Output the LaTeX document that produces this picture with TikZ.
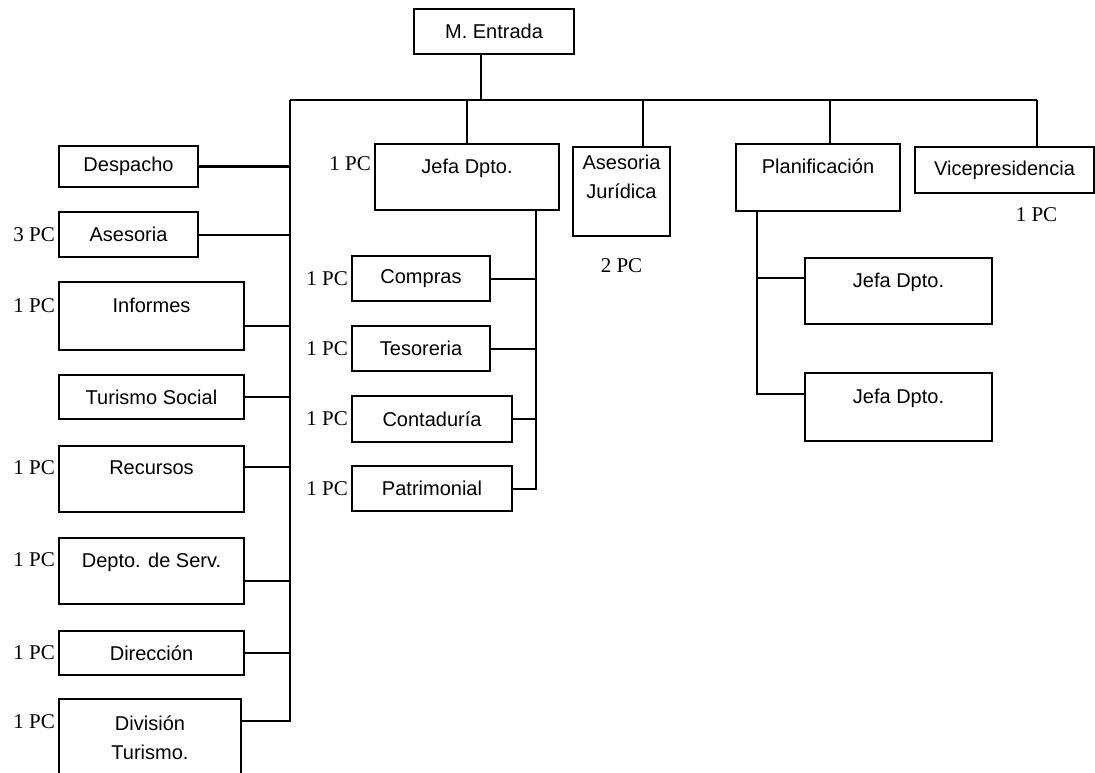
\documentclass[tikz,border=0pt]{standalone}
\usepackage{fontspec}
\setmainfont{Liberation Serif}
\newfontfamily\boxfont{Liberation Sans}
\usetikzlibrary{positioning}

\begin{document}
\begin{tikzpicture}[
    x=1pt, y=-1pt,
    node distance=23pt,
    dept/.style  ={draw, line width=2pt, align=center, inner sep=0pt,
                   font=\boxfont\fontsize{20}{22}\selectfont},
    slim/.style  ={dept, minimum height=45pt},
    tall/.style  ={dept, minimum height=66pt},
    pc/.style    ={font=\fontsize{21}{24}\selectfont, inner sep=1pt},
    link/.style  ={line width=2pt},
]
\useasboundingbox (0,0) rectangle (1095,773);
\clip (0,0) rectangle (1095,773);

% ============================================================
% TOP — M. Entrada and main bus
% ============================================================
\node[slim, minimum width=160pt, anchor=north west] (mentrada) at (413,8) {M. Entrada};

\coordinate (hub)  at (481,100);
\coordinate (busw) at (290,100);
\coordinate (buse) at (1037,100);

% ============================================================
% LEFT COLUMN
% ============================================================
\node[slim, minimum width=139pt, minimum height=41pt, anchor=north west] (despacho) at (58,145) {Despacho};
\node[slim, minimum width=139pt, below=of despacho.south west, anchor=north west] (asesoria) {Asesoria};
\node[tall, minimum width=185pt, minimum height=68pt, below=of asesoria.south west, anchor=north west] (informes) {Informes\\\mbox{}};
\node[slim, minimum width=185pt, minimum height=44pt, below=of informes.south west, anchor=north west] (turismo) {Turismo Social};
\node[tall, minimum width=185pt, below=25pt of turismo.south west, anchor=north west] (recursos) {Recursos\\\mbox{}};
\node[tall, minimum width=185pt, below=24pt of recursos.south west, anchor=north west] (deptoserv) {Depto. de Serv.\\\mbox{}};
\node[slim, minimum width=185pt, minimum height=44pt, below=25pt of deptoserv.south west, anchor=north west] (direccion) {Dirección};
\node[dept, minimum width=182pt, minimum height=106pt, below=22pt of direccion.south west, anchor=north west] (division)
    {División\\[7pt]Turismo.\\[7pt]\mbox{}};

\node[pc, left=2pt of asesoria]                               (pcasesoria)  {3 PC};
\node[pc, left=2pt of informes.north west, yshift=-25pt]      (pcinformes)  {1 PC};
\node[pc, left=2pt of recursos.north west, yshift=-23pt]      (pcrecursos)  {1 PC};
\node[pc, left=2pt of deptoserv.north west, yshift=-23pt]     (pcdeptoserv) {1 PC};
\node[pc, left=2pt of direccion]                              (pcdireccion) {1 PC};
\node[pc, left=2pt of division.north west, yshift=-24pt]      (pcdivision)  {1 PC};

% ============================================================
% SECOND ROW
% ============================================================
\node[tall, minimum width=184pt, anchor=north west] (jefa)    at (374,143) {Jefa Dpto.\\\mbox{}};
\node[dept, minimum width=97pt, minimum height=89pt, anchor=north west] (asesjur) at (572,146)
    {Asesoria\\[7pt]Jurídica\\[7pt]\mbox{}};
\node[tall, minimum width=164pt, minimum height=67pt, anchor=north west] (planif)  at (735,143) {Planificación\\\mbox{}};
\node[slim, minimum width=179pt, minimum height=46pt, anchor=north west] (vice)    at (914,146) {Vicepresidencia};

\node[pc, left=2pt of jefa.north west, yshift=-21pt] (pcjefa)    {1 PC};
\node[pc, below=20pt of asesjur]                    (pcasesjur) {2 PC};
\node[pc, below=12pt of vice, xshift=32pt]          (pcvice)    {1 PC};

% ============================================================
% MIDDLE COLUMN — under Jefa Dpto.
% ============================================================
\node[slim, minimum width=138pt, anchor=north west] (compras) at (351,255) {Compras};
\node[slim, minimum width=138pt, below=of compras.south west, anchor=north west]   (tesoreria)   {Tesoreria};
\node[slim, minimum width=160pt, minimum height=46pt, below=of tesoreria.south west, anchor=north west] (contaduria) {Contaduría};
\node[slim, minimum width=160pt, below=22pt of contaduria.south west, anchor=north west] (patrimonial) {Patrimonial};

\node[pc, left=2pt of compras]     (pccompras)     {1 PC};
\node[pc, left=2pt of tesoreria]   (pctesoreria)   {1 PC};
\node[pc, left=2pt of contaduria]  (pccontaduria)  {1 PC};
\node[pc, left=2pt of patrimonial] (pcpatrimonial) {1 PC};

% ============================================================
% RIGHT — under Planificación
% ============================================================
\node[tall, minimum width=187pt, anchor=north west] (jefaa) at (804,257) {Jefa Dpto.\\\mbox{}};
\node[tall, minimum width=187pt, minimum height=68pt, below=47pt of jefaa.south west, anchor=north west] (jefab) {Jefa Dpto.\\\mbox{}};

% ============================================================
% CONNECTORS
% ============================================================
\coordinate (midtop)  at ([xshift=-24pt]jefa.south east);
\coordinate (plantop) at ([xshift=22pt]planif.south west);

% bus and drops
\draw[link] (hub |- mentrada.south) -- (hub);
\draw[link] (busw) -- (buse);
\draw[link] (jefa.north |- hub) -- (jefa.north);
\draw[link] ([xshift=21pt]asesjur.north |- hub) -- ([xshift=21pt]asesjur.north);
\draw[link] ([xshift=12pt]planif.north |- hub) -- ([xshift=12pt]planif.north);
\draw[link] (buse) -- (buse |- vice.north);

% left trunk
\draw[link] ([yshift=-23pt]division.north east) -| (busw);
\draw[link] (despacho.east)  -- (despacho.east -| busw);
\draw[link] (asesoria.east)  -- (asesoria.east -| busw);
\draw[link] ([yshift=-45pt]informes.north east) -- ([yshift=-45pt]informes.north east -| busw);
\draw[link] (turismo.east)   -- (turismo.east -| busw);
\draw[link] ([yshift=-22pt]recursos.north east)  -- ([yshift=-22pt]recursos.north east -| busw);
\draw[link] ([yshift=-44pt]deptoserv.north east) -- ([yshift=-44pt]deptoserv.north east -| busw);
\draw[link] (direccion.east) -- (direccion.east -| busw);

% middle trunk
\draw[link] (patrimonial.east) -| (midtop);
\draw[link] (compras.east)    -- (compras.east -| midtop);
\draw[link] (tesoreria.east)  -- (tesoreria.east -| midtop);
\draw[link] (contaduria.east) -- (contaduria.east -| midtop);

% planificacion trunk
\draw[link] ([yshift=-22pt]jefab.north west) -| (plantop);
\draw[link] ([yshift=-21pt]jefaa.north west) -- ([yshift=-21pt]jefaa.north west -| plantop);

\end{tikzpicture}
\end{document}
